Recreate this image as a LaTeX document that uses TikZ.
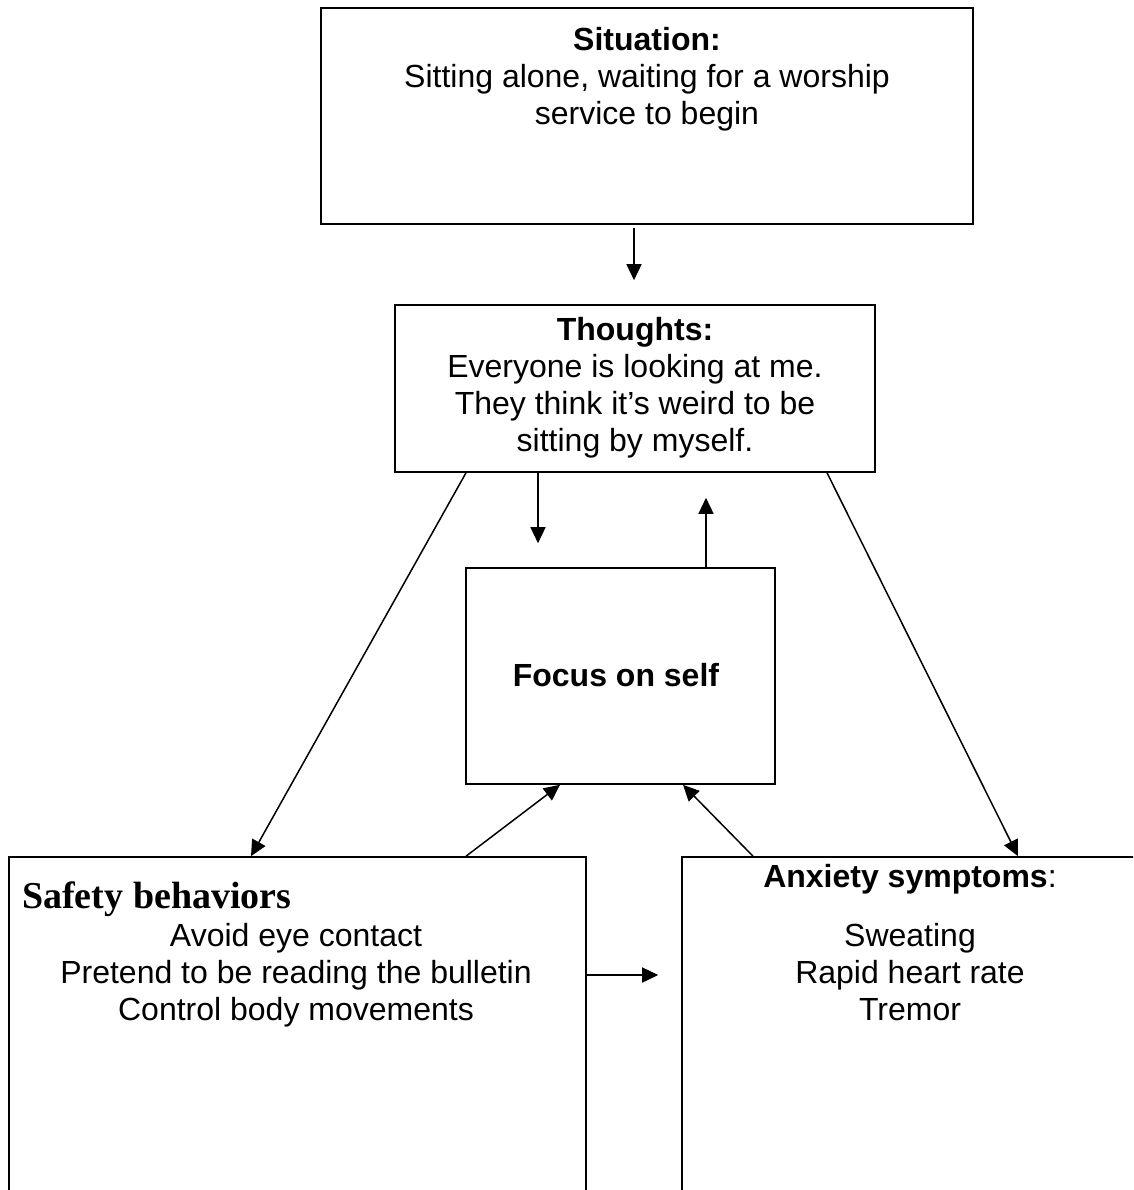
\documentclass[tikz,border=0pt]{standalone}
\usepackage{fontspec}
\setmainfont{Liberation Sans}
\newfontfamily\timesfont{Liberation Serif}
\usetikzlibrary{arrows.meta}
\begin{document}
\begin{tikzpicture}[x=1pt,y=-1pt,
  box/.style={draw, line width=1.6pt, inner sep=0pt},
  txt/.style={align=center, font=\fontsize{32}{37}\selectfont, inner sep=0pt},
  arr/.style={-{Triangle[length=16pt,width=15pt]}, line width=1.5pt}]
\clip (0,0) rectangle (1133,1190);
\fill[white] (0,0) rectangle (1133,1190);
% boxes
\node[box, minimum width=652pt, minimum height=216pt] (sit) at (647,116) {};
\node[box, minimum width=480pt, minimum height=167pt] (thk) at (635,388.5) {};
\node[box, minimum width=309pt, minimum height=216pt] (foc) at (620.5,676) {};
\node[box, minimum width=577pt, minimum height=393pt] (saf) at (297.5,1053.5) {};
\node[box, minimum width=518pt, minimum height=393pt] (anx) at (941,1053.5) {};
% texts
\node[txt] (sitT) at (647,79) {\textbf{Situation:}\\Sitting alone, waiting for a worship\\service to begin};
\node[txt] (thkT) at (635,388) {\textbf{Thoughts:}\\Everyone is looking at me.\\They think it’s weird to be\\sitting by myself.};
\node[txt] (focT) at (616,675) {\textbf{Focus on self}};
\node[txt, anchor=west, font=\fontsize{38}{44}\selectfont\timesfont\bfseries] (safH) at (22,899) {Safety behaviors};
\node[txt] (safT) at (296,975) {Avoid eye contact\\Pretend to be reading the bulletin\\Control body movements};
\node[txt] (anxH) at (910,879) {\textbf{Anxiety symptoms}:};
\node[txt] (anxT) at (910,972) {Sweating\\Rapid heart rate\\Tremor};
% connectors
\draw[arr, shorten <=3pt, shorten >=24pt] (sit.south -| 634,0) -- (thk.north -| 634,0);
\draw[arr, shorten >=24pt] (thk.south -| 538,0) -- (foc.north -| 538,0);
\draw[arr, shorten >=25pt] (foc.north -| 706,0) -- (thk.south -| 706,0);
\draw[arr] (thk.south -| 466,0) -- (saf.north -| 251,0);
\draw[arr] (thk.south -| 827,0) -- (anx.north -| 1018,0);
\draw[arr] (saf.north -| 466,0) -- (foc.south -| 560,0);
\draw[arr] (anx.north -| 753,0) -- (foc.south -| 683,0);
\draw[arr, shorten >=23pt] (saf.east |- 0,975) -- (anx.west |- 0,975);
\end{tikzpicture}
\end{document}
